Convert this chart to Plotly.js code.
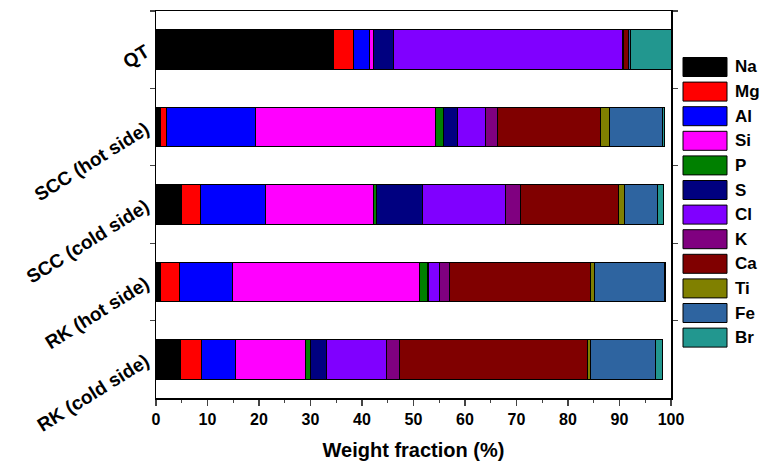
<!DOCTYPE html>
<html><head><meta charset="utf-8">
<script src="https://cdn.plot.ly/plotly-3.0.1.min.js"></script>
<style>body{margin:0;background:#fff}#chart{width:761px;height:464px}</style>
</head><body><div id="chart"></div>
<script>
const categories = ["QT", "SCC (hot side)", "SCC (cold side)", "RK (hot side)", "RK (cold side)"];
const elements = ["Na","Mg","Al","Si","P","S","Cl","K","Ca","Ti","Fe","Br"];
const colors = ["#000000","#FF0000","#0000FF","#FF00FF","#008000","#000080","#8000FF","#800080","#800000","#808000","#2E64A0","#22978F"];
// values per sample, element order as above
const QT      = [34.5, 3.8, 3.1, 0.9, 0.0, 3.9, 44.3, 0.3, 0.9, 0.1, 0.3, 7.9];
const SCC_hot = [0.8, 1.2, 17.3, 35.0, 1.6, 2.6, 5.5, 2.4, 20.0, 1.6, 10.3, 0.5];
const SCC_cold= [5.0, 3.6, 12.7, 21.0, 0.5, 9.0, 16.0, 3.0, 19.0, 1.1, 6.4, 1.3];
const RK_hot  = [0.8, 3.7, 10.4, 36.3, 1.5, 0.2, 2.1, 2.0, 27.3, 0.8, 13.7, 0.2];
const RK_cold = [4.7, 4.1, 6.6, 13.6, 1.0, 3.1, 11.6, 2.5, 36.6, 0.5, 12.6, 1.4];
const samples = [QT, SCC_hot, SCC_cold, RK_hot, RK_cold];

const FONT = "Arial, 'Liberation Sans', sans-serif";
const traces = elements.map((el, i) => ({
  type: 'bar', orientation: 'h', name: el,
  y: categories, x: samples.map(s => s[i]),
  marker: {color: colors[i], line: {color: '#000', width: 1}},
  showlegend: false, hoverinfo: 'x+name'
}));

// custom legend (large boxes like the original)
const W = 761, H = 464, ml = 156, mr = 90, mt = 11, mb = 66;
const pw = W - ml - mr, ph = H - mt - mb;
const px2x = p => (p - ml) / pw;
const py2y = p => (H - mb - p) / ph;
const shapes = [], annotations = [];
elements.forEach((el, i) => {
  const cy = 67 + i * 24.6;
  shapes.push({type: 'rect', xref: 'paper', yref: 'paper',
    x0: px2x(683), x1: px2x(727), y0: py2y(cy + 9.5), y1: py2y(cy - 9.5),
    fillcolor: colors[i], line: {color: '#000', width: 1}});
  annotations.push({xref: 'paper', yref: 'paper', x: px2x(733), y: py2y(cy),
    xanchor: 'left', yanchor: 'middle', text: el, showarrow: false,
    font: {family: FONT, size: 17, color: '#000', weight: 'bold'}});
});

const layout = {
  width: W, height: H,
  margin: {l: ml, r: mr, t: mt, b: mb},
  barmode: 'stack', bargap: 0.49,
  plot_bgcolor: '#fff', paper_bgcolor: '#fff',
  font: {family: FONT, color: '#000'},
  xaxis: {range: [0, 100], dtick: 10, tick0: 0, ticks: 'outside', ticklen: 6, tickwidth: 1.3,
    showline: true, linecolor: '#000', linewidth: 1.5, mirror: true, showgrid: false, zeroline: false,
    minor: {dtick: 5, ticks: 'outside', ticklen: 3, tickwidth: 1},
    tickfont: {family: FONT, size: 16, weight: 'bold'},
    title: {text: 'Weight fraction (%)', font: {family: FONT, size: 20, weight: 'bold'}, standoff: 16}},
  yaxis: {type: 'category', categoryorder: 'array', categoryarray: categories, range: [4.5, -0.5],
    ticks: 'outside', tickson: 'boundaries', ticklen: 5, tickwidth: 1.3, ticklabelstandoff: 5,
    showline: true, linecolor: '#000', linewidth: 1.5, mirror: 'ticks', showgrid: false, zeroline: false,
    tickangle: -32, tickfont: {family: FONT, size: 19, weight: 'bold'}},
  shapes: shapes, annotations: annotations
};
Plotly.newPlot('chart', traces, layout, {displayModeBar: false, staticPlot: true});
</script></body></html>
